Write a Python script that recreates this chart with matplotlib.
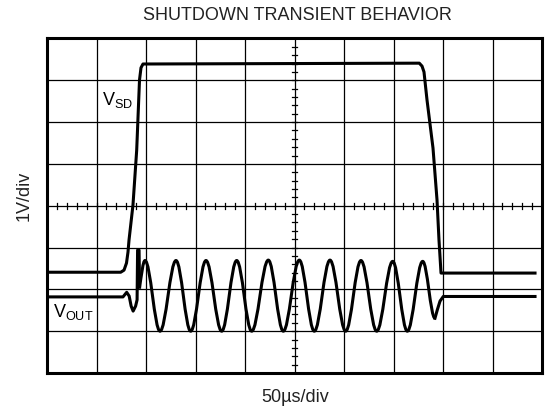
import matplotlib
matplotlib.use('Agg')
from matplotlib import pyplot as plt
from matplotlib.path import Path
from matplotlib.patches import PathPatch

plt.rcParams['font.family'] = ['Liberation Sans', 'DejaVu Sans']
plt.rcParams['mathtext.fontset'] = 'custom'
plt.rcParams['mathtext.rm'] = 'Liberation Sans'

# Traces, in divisions (x: 0..10, y: 0..8)
vsd_x = [0.0, 1.489, 1.556, 1.606, 1.636, 1.657, 1.737, 1.812, 1.869, 1.899, 1.939,
         7.521, 7.576, 7.616, 7.677, 7.798, 7.879, 7.919, 7.960, 9.859]
vsd_y = [2.41, 2.41, 2.46, 2.63, 2.89, 3.18, 4.02, 5.33, 7.01, 7.30, 7.39,
         7.41, 7.34, 7.20, 6.53, 5.38, 4.14, 3.18, 2.39, 2.39]

# VOUT lead-in (baseline, small wiggle, spike)
vout_in_x = [0.0, 1.535, 1.61, 1.66, 1.70, 1.74, 1.79, 1.82, 1.83, 1.86, 1.87]
vout_in_y = [1.82, 1.82, 1.93, 1.84, 1.60, 1.48, 1.60, 1.75, 2.94, 2.94, 2.05]

# VOUT ringing: alternating peaks and troughs
ring_x = [1.980, 2.283, 2.606, 2.903, 3.212, 3.529, 3.832, 4.135, 4.471, 4.774,
          5.097, 5.400, 5.717, 6.034, 6.343, 6.661, 6.984, 7.279, 7.590, 7.838]
ring_y = [2.69, 1.00, 2.69, 1.00, 2.69, 1.00, 2.69, 1.00, 2.70, 1.00,
          2.70, 1.00, 2.70, 1.00, 2.69, 1.00, 2.67, 1.00, 2.67, 1.31]

# VOUT lead-out back to baseline
vout_out_x = [7.838, 7.885, 7.94, 8.006, 9.859]
vout_out_y = [1.31, 1.51, 1.72, 1.83, 1.83]

fig = plt.figure(figsize=(5.48, 4.11), dpi=100)
ax = fig.add_axes([47 / 548, 1 - 373 / 411, 495 / 548, 334.5 / 411])
ax.set_xlim(0, 10)
ax.set_ylim(0, 8)
ax.set_xticks([])
ax.set_yticks([])
for s in ax.spines.values():
    s.set_linewidth(2.2)

# scope graticule
for i in range(1, 10):
    ax.axvline(i, color='black', lw=0.9, zorder=1)
for j in range(1, 8):
    ax.axhline(j, color='black', lw=0.9, zorder=1)
for k in range(1, 50):
    t = k * 0.2
    ax.plot([t, t], [4 - 0.07, 4 + 0.07], color='black', lw=0.9, zorder=1)
for k in range(1, 40):
    t = k * 0.2
    ax.plot([5 - 0.06, 5 + 0.06], [t, t], color='black', lw=0.9, zorder=1)

lw = 2.2
ax.plot(vsd_x, vsd_y, color='black', lw=lw, solid_joinstyle='round', zorder=3)
ax.plot(vout_in_x, vout_in_y, color='black', lw=lw, solid_joinstyle='round', zorder=3)
ax.plot(vout_out_x, vout_out_y, color='black', lw=lw, solid_joinstyle='round', zorder=3)

# ringing drawn as smooth curves between extrema (horizontal tangents)
verts = [(vout_in_x[-1], vout_in_y[-1])]
codes = [Path.MOVETO]
px, py = vout_in_x[-1], vout_in_y[-1]
first = True
for x, y in zip(ring_x, ring_y):
    d = x - px
    c1 = (px + 0.363 * d, py + 0.3) if first else (px + 0.363 * d, py)
    verts += [c1, (x - 0.363 * d, y), (x, y)]
    codes += [Path.CURVE4] * 3
    px, py = x, y
    first = False
ax.add_patch(PathPatch(Path(verts, codes), fill=False, lw=lw, edgecolor='black',
                       joinstyle='round', zorder=3))

ax.text(1.105, 6.41, r'$\mathrm{V_{SD}}$', fontsize=13, zorder=4)
ax.text(0.115, 1.34, r'$\mathrm{V_{OUT}}$', fontsize=13, zorder=4)

fig.text(297 / 548, 1 - 15 / 411, 'SHUTDOWN TRANSIENT BEHAVIOR', ha='center', va='center',
         fontsize=13, color='#222222')
fig.text(295 / 548, 1 - 397 / 411, '50µs/div', ha='center', va='center',
         fontsize=13, color='#222222')
fig.text(24 / 548, 1 - 196 / 411, '1V/div', ha='center', va='center', rotation=90,
         fontsize=13, color='#222222')

fig.savefig('out.png', dpi=100)
